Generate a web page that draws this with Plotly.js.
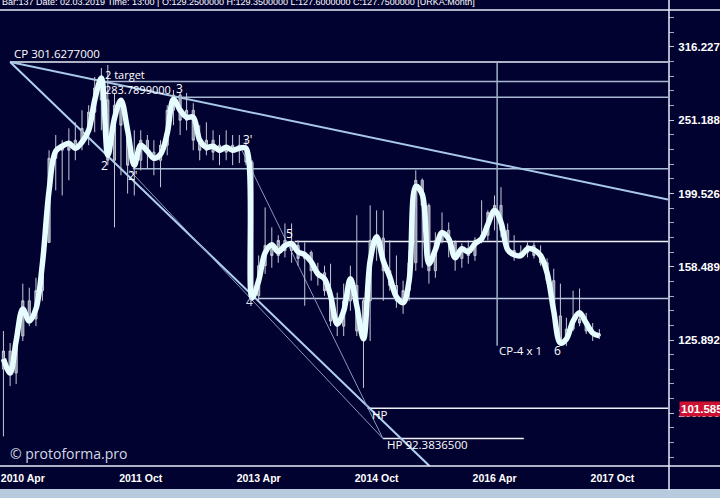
<!DOCTYPE html>
<html><head><meta charset="utf-8">
<script src="https://cdn.plot.ly/plotly-3.0.1.min.js"></script>
<style>html,body{margin:0;padding:0;background:#020230;}#chart{width:720px;height:498px;}</style>
</head><body><div id="chart"></div>
<script>
const months = ['2010-01-01','2010-02-01','2010-03-01','2010-04-01','2010-05-01','2010-06-01','2010-07-01','2010-08-01','2010-09-01','2010-10-01','2010-11-01','2010-12-01',
'2011-01-01','2011-02-01','2011-03-01','2011-04-01','2011-05-01','2011-06-01','2011-07-01','2011-08-01','2011-09-01','2011-10-01','2011-11-01','2011-12-01',
'2012-01-01','2012-02-01','2012-03-01','2012-04-01','2012-05-01','2012-06-01','2012-07-01','2012-08-01','2012-09-01','2012-10-01','2012-11-01','2012-12-01',
'2013-01-01','2013-02-01','2013-03-01','2013-04-01','2013-05-01','2013-06-01','2013-07-01','2013-08-01','2013-09-01','2013-10-01','2013-11-01','2013-12-01',
'2014-01-01','2014-02-01','2014-03-01','2014-04-01','2014-05-01','2014-06-01','2014-07-01','2014-08-01','2014-09-01','2014-10-01','2014-11-01','2014-12-01',
'2015-01-01','2015-02-01','2015-03-01','2015-04-01','2015-05-01','2015-06-01','2015-07-01','2015-08-01','2015-09-01','2015-10-01','2015-11-01','2015-12-01',
'2016-01-01','2016-02-01','2016-03-01','2016-04-01','2016-05-01','2016-06-01','2016-07-01','2016-08-01','2016-09-01','2016-10-01','2016-11-01','2016-12-01',
'2017-01-01','2017-02-01','2017-03-01','2017-04-01','2017-05-01','2017-06-01','2017-07-01','2017-08-01'];

const openP = [114.9,121.6,113.5,127.5,142.4,134.5,147.0,171.1,222.9,228.6,
232.2,228.6,235.9,244.9,257.6,278.0,267.7,221.5,263.3,247.3,
218.1,221.5,235.9,227.2,221.5,232.2,259.2,271.9,251.2,259.2,
235.9,228.6,235.9,227.2,232.2,227.2,232.2,228.6,220.2,144.7,
159.0,169.5,164.2,172.2,166.8,169.5,162.7,165.8,156.5,155.5,
147.0,133.6,131.5,142.4,149.4,129.5,142.4,172.2,173.4,156.5,
149.4,142.4,147.0,160.5,208.0,192.2,156.5,172.2,177.7,171.1,
162.7,167.9,164.2,172.2,175.0,188.0,192.2,177.7,166.8,164.2,
165.8,169.5,164.2,160.5,151.7,135.8,125.5,130.3,134.5,132.8,
129.5,128.3];
const highP = [129.5,124.7,130.3,150.3,148.4,153.1,165.3,228.6,239.8,235.9,
244.9,249.6,259.2,263.3,287.8,296.0,298.8,273.7,267.7,251.2,
243.4,243.4,239.8,235.9,235.9,263.3,276.3,273.7,273.7,265.0,
247.3,249.6,243.4,239.8,243.4,239.8,239.8,235.9,221.5,164.2,
191.0,179.4,175.0,181.6,181.6,172.2,171.1,166.8,160.5,159.0,
160.0,146.1,150.3,159.0,186.3,143.8,192.2,189.2,189.2,172.2,
164.2,151.7,166.8,214.6,209.2,193.4,176.6,188.0,182.2,172.2,
170.6,172.2,173.9,195.3,189.2,198.3,203.5,181.6,175.0,169.5,
171.1,171.1,169.5,162.7,157.5,150.3,135.0,147.0,148.0,137.1,
132.8,130.3];
const lowP = [93.0,108.9,109.6,125.5,131.5,131.5,142.4,171.1,201.5,198.3,
208.0,221.5,228.6,232.2,241.9,243.4,218.1,179.4,211.3,199.5,
198.3,214.6,216.1,211.3,203.5,225.0,247.3,239.8,243.4,228.6,
221.5,225.0,221.5,218.1,221.5,218.1,219.5,218.1,142.4,142.4,
155.0,158.0,160.5,163.2,160.5,159.0,140.2,151.7,149.4,144.7,
131.5,127.5,127.5,138.0,127.5,108.3,125.5,161.5,142.4,147.0,
139.3,136.7,142.4,156.5,158.0,150.3,153.1,170.6,163.2,156.5,
158.0,160.0,161.5,170.6,172.2,177.7,173.9,165.3,161.5,162.7,
163.2,162.7,159.0,150.3,133.6,123.6,123.6,129.5,131.5,128.3,
125.5,126.3];
const closeP = [121.6,113.5,127.5,142.4,134.5,147.0,162.7,222.9,228.6,232.2,
228.6,235.9,244.9,257.6,278.0,267.7,221.5,263.3,247.3,218.1,
221.5,235.9,227.2,221.5,232.2,259.2,271.9,251.2,259.2,235.9,
228.6,235.9,227.2,232.2,227.2,232.2,228.6,220.2,144.7,159.0,
169.5,164.2,172.2,166.8,169.5,162.7,165.8,156.5,155.5,147.0,
133.6,131.5,142.4,149.4,129.5,142.4,172.2,173.4,156.5,149.4,
142.4,147.0,160.5,208.0,192.2,156.5,172.2,177.7,171.1,162.7,
167.9,164.2,172.2,175.0,188.0,192.2,177.7,166.8,164.2,165.8,
169.5,164.2,160.5,151.7,135.8,125.5,130.3,134.5,132.8,129.5,
128.3,127.5];
const smoothP = [118.6,113.5,125.5,138.8,133.6,138.8,160.0,201.4,227.9,231.5,
233.7,230.0,234.4,243.4,267.5,286.9,225.0,252.8,267.5,243.4,
218.1,232.2,227.9,222.9,225.7,241.1,268.3,259.2,253.6,253.6,
235.9,230.7,231.5,228.6,230.7,228.6,230.0,230.0,143.8,151.7,
165.6,169.8,166.1,169.3,170.4,166.1,164.6,161.0,155.0,152.6,
144.7,132.4,137.9,152.6,140.1,126.3,161.5,174.2,161.5,153.6,
144.2,141.5,151.7,204.0,199.0,160.0,167.2,176.4,173.1,163.0,
167.7,166.1,170.4,173.1,181.0,189.2,182.2,167.2,164.6,164.1,
167.7,167.2,164.1,155.5,137.9,124.7,126.3,133.6,137.1,132.8,
128.7,127.5];

const xTickVals = ['2010-04-01','2011-10-01','2013-04-01','2014-10-01','2016-04-01','2017-10-01'];
const xTickText = ['2010 Apr','2011 Oct','2013 Apr','2014 Oct','2016 Apr','2017 Oct'];
const yTickVals = [100.0, 125.892, 158.489, 199.526, 251.188, 316.227];
const yTickText = ['100.000','125.892','158.489','199.526','251.188','316.227'];

// key levels
const cpLevel = 301.6277, targetLevel = 283.7899, level3 = 270.0, level2p = 215.7, level5 = 171.6, level4 = 143.4;
const hpLevel = 101.585, hp2Level = 92.38365;
const priceNow = 101.585;

const minorVals = [];
for (let k = 95; k <= 128; k++) minorVals.push(Math.pow(10, k * 0.02));

const candle = {
  type: 'candlestick', x: months, open: openP, high: highP, low: lowP, close: closeP,
  increasing: {line: {color: '#c4c8d4', width: 1}, fillcolor: '#8c92a4'},
  decreasing: {line: {color: '#c4c8d4', width: 1}, fillcolor: '#8c92a4'},
  whiskerwidth: 0, hoverinfo: 'skip', showlegend: false
};
const smooth = {
  type: 'scatter', mode: 'lines', x: months, y: smoothP,
  line: {color: '#e6fcff', width: 5.5, shape: 'spline', smoothing: 1},
  hoverinfo: 'skip', showlegend: false
};

const hl = (x0, y, col, x1) => ({type: 'line', xref: 'x', yref: 'y', x0: x0, x1: x1 || '2019-01-01', y0: y, y1: y, layer: 'below', line: {color: col, width: 1.5}});
const seg = (x0, y0, x1, y1, col, w) => ({type: 'line', xref: 'x', yref: 'y', x0: x0, y0: y0, x1: x1, y1: y1, layer: 'below', line: {color: col, width: w}});

const shapes = [
  hl('2010-02-01', cpLevel, '#e8eef8'),
  hl('2011-04-07', targetLevel, '#a8b8d0'),
  hl('2012-03-15', level3, '#a8b8d0'),
  hl('2011-08-25', level2p, '#a8c0d8'),
  hl('2013-09-15', level5, '#eef2f8'),
  hl('2013-03-28', level4, '#b8c8e0'),
  hl('2014-08-20', hpLevel, '#eef2f8'),
  hl('2014-10-30', hp2Level, '#eef2f8', '2016-08-15'),
  seg('2016-04-13', 123.6, '2016-04-13', cpLevel, '#a0b0c8', 1.5),
  seg('2010-02-01', cpLevel, '2018-06-16', 195.8, '#a8c8e8', 2),
  seg('2010-02-01', cpLevel, '2015-06-04', 84.7, '#b0d0f0', 2),
  seg('2011-08-10', 214.6, '2014-10-30', hp2Level, '#8898c0', 1),
  seg('2013-01-13', 228.6, '2014-10-30', hp2Level, '#8898c0', 1),
  // frame
  {type: 'rect', xref: 'paper', yref: 'paper', x0: -0.01, x1: 1.1, y0: -0.0504, y1: -0.08, fillcolor: '#b8cade', line: {width: 0}},
  {type: 'line', xref: 'paper', yref: 'paper', x0: -0.01, x1: 1.1, y0: 1, y1: 1, line: {color: '#e8eef8', width: 1.5}},
  {type: 'line', xref: 'paper', yref: 'paper', x0: -0.01, x1: 1.1, y0: 0, y1: 0, line: {color: '#e8eef8', width: 1.5}},
  {type: 'line', xref: 'paper', yref: 'paper', x0: 1.0015, x1: 1.0015, y0: -0.053, y1: 1.03, line: {color: '#e8eef8', width: 1.5}}
];

const F = 'Open Sans, Noto Sans, sans-serif';
const ann = (t, x, y, xa, sz, col) => ({text: t, xref: 'paper', yref: 'paper', x: x, y: y, xanchor: xa || 'left', yanchor: 'middle', showarrow: false, font: {family: F, size: sz || 11.5, color: col || '#ffffff'}});

const annotations = [
  ann('CP 301.6277000', 0.018, 0.904),
  ann('2 target', 0.154, 0.858, 'left', 11),
  ann('283.7899000', 0.154, 0.826, 'left', 11),
  ann('3', 0.268, 0.827, 'center', 12),
  ann('2', 0.156, 0.658, 'center', 12),
  ann("2'", 0.199, 0.638, 'center', 12),
  ann("3'", 0.371, 0.715, 'center', 12),
  ann('4', 0.374, 0.360, 'center', 12, '#d8dce8'),
  ann('5', 0.434, 0.509, 'center', 12),
  ann('HP', 0.554, 0.114),
  ann('HP 92.3836500', 0.576, 0.048),
  ann('CP-4 x 1', 0.744, 0.254),
  ann('6', 0.834, 0.254, 'center', 12),
  ann('© protoforma.pro', 0.012, 0.0285, 'left', 14, '#d4dae4'),
  {text: 'Bar:137 Date: 02.03.2019 Time: 13:00 | O:129.2500000 H:129.3500000 L:127.6000000 C:127.7500000 [URKA:Month]',
   xref: 'paper', yref: 'paper', x: 0, y: 1.0186, xanchor: 'left', yanchor: 'middle', showarrow: false,
   font: {family: 'Liberation Sans, Arial, sans-serif', size: 9, color: '#ffffff'}},
  {text: '<b>' + priceNow.toFixed(3) + '</b>', xref: 'paper', yref: 'paper', x: 1.0165, y: 0.125, xanchor: 'left', yanchor: 'middle',
   showarrow: false, bgcolor: '#cc1133', borderpad: 1, font: {family: 'Liberation Sans, Arial, sans-serif', size: 11.5, color: '#ffffff'}}
];

const layout = {
  width: 720, height: 498,
  margin: {l: 0, r: 52, t: 10, b: 32, pad: 0},
  paper_bgcolor: '#020230', plot_bgcolor: '#020230',
  showlegend: false, hovermode: false, boxgap: 0.5,
  xaxis: {
    type: 'date', range: ['2009-12-16', '2018-06-16'], rangeslider: {visible: false},
    showgrid: false, zeroline: false, showline: false, ticks: '',
    tickmode: 'array', tickvals: xTickVals, ticktext: xTickText.map(t => '<b>' + t + '</b>'),
    ticklabeloverflow: 'allow', ticklabelstandoff: 4,
    tickfont: {family: 'Liberation Sans, Arial, sans-serif', size: 10.5, color: '#ffffff'}
  },
  yaxis: {
    type: 'log', side: 'right', range: [1.928, 2.5505],
    showgrid: false, zeroline: false, showline: false,
    tickmode: 'array', tickvals: yTickVals, ticktext: yTickText.map(t => '<b>' + t + '</b>'),
    ticks: 'outside', ticklen: 5, tickwidth: 1, tickcolor: '#c0c8d8', ticklabelstandoff: 2,
    tickfont: {family: 'Liberation Sans, Arial, sans-serif', size: 11.5, color: '#ffffff'},
    minor: {tickmode: 'array', tickvals: minorVals, ticks: 'outside', ticklen: 5, tickcolor: '#a0a8bc', showgrid: false}
  },
  shapes: shapes,
  annotations: annotations
};

Plotly.newPlot('chart', [candle, smooth], layout, {staticPlot: true, displayModeBar: false});
</script>
</body></html>
